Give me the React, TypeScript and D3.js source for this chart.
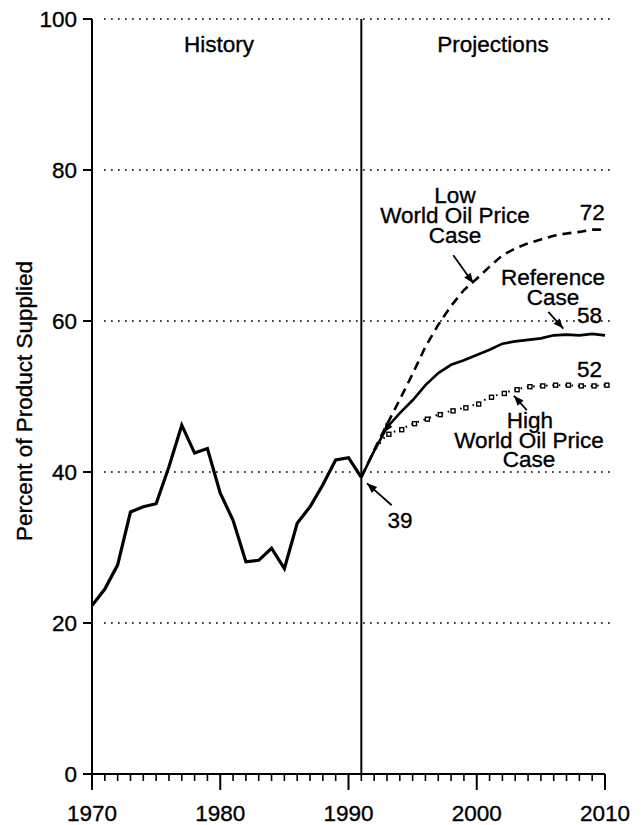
import React from "react";
import * as d3 from "d3";

const historyYears = d3.range(1970, 1992);
const historyValues = [22.3, 24.5, 27.7, 34.7, 35.4, 35.8, 40.7, 46.2, 42.5, 43.1, 37.2, 33.6, 28.1, 28.3, 29.9, 27.2, 33.2, 35.4, 38.3, 41.6, 41.9, 39.3];

const projYears = d3.range(1991, 2011);
const referenceCase = [39.3, 42.8, 45.9, 47.8, 49.5, 51.5, 53.1, 54.2, 54.8, 55.5, 56.2, 57.0, 57.3, 57.5, 57.7, 58.1, 58.2, 58.1, 58.3, 58.1];
const lowOilCase = [39.3, 42.9, 46.3, 49.6, 53.0, 56.6, 59.5, 62.0, 64.1, 65.6, 67.2, 68.7, 69.6, 70.3, 70.8, 71.3, 71.6, 71.8, 72.1, 72.1];
const highOilCase = [39.3, 42.8, 45.0, 45.6, 46.4, 47.0, 47.6, 48.1, 48.5, 49.0, 49.9, 50.4, 50.9, 51.3, 51.4, 51.5, 51.5, 51.4, 51.4, 51.5];

const yTicks = [0, 20, 40, 60, 80, 100];
const xTickLabels = [1970, 1980, 1990, 2000, 2010];
const allYears = d3.range(1970, 2011);
const dividerYear = 1991;

const endLabels = [
  { text: "72", year: 2009.0, value: 73.4 },
  { text: "58", year: 2008.8, value: 59.7 },
  { text: "52", year: 2008.8, value: 52.6 },
];

const arrows = [
  { from: [1998.17, 68.7], to: [1999.73, 65.0] },
  { from: [2005.58, 61.2], to: [2006.75, 59.0] },
  { from: [2003.9, 48.2], to: [2002.9, 50.1] },
  { from: [1993.37, 35.6], to: [1991.44, 38.5] },
  { from: [1993.3, 46.6], to: [1992.72, 45.2] },
];

const FONT = "'Liberation Sans', Arial, Helvetica, sans-serif";

export default function App() {
  const W = 643;
  const H = 825;
  const x = d3.scaleLinear().domain([1970, 2010]).range([92, 605]);
  const y = d3.scaleLinear().domain([0, 100]).range([774, 19]);

  const line = d3
    .line<[number, number]>()
    .x((d) => x(d[0]))
    .y((d) => y(d[1]));

  const hist = line(historyYears.map((yr, i) => [yr, historyValues[i]]));
  const ref = line(projYears.map((yr, i) => [yr, referenceCase[i]]));
  const low = line(projYears.map((yr, i) => [yr, lowOilCase[i]]));
  const highPts: [number, number][] = projYears.map((yr, i) => [yr, highOilCase[i]]);
  const high = line(highPts);

  const arrowHead = (fx: number, fy: number, tx: number, ty: number, len = 10, half = 4) => {
    const ang = Math.atan2(ty - fy, tx - fx);
    const bx = tx - len * Math.cos(ang);
    const by = ty - len * Math.sin(ang);
    const px = -Math.sin(ang) * half;
    const py = Math.cos(ang) * half;
    return `M${tx},${ty}L${bx + px},${by + py}L${bx - px},${by - py}Z`;
  };

  const textStyle: React.CSSProperties = {
    fontFamily: FONT,
    fontSize: 22.5,
    fill: "#000",
    stroke: "#000",
    strokeWidth: 0.35,
  };

  return (
    <div style={{ position: "fixed", left: 0, top: 0, width: W, height: H, background: "#fff" }}>
      <svg width={W} height={H} style={{ display: "block" }}>
        <rect x={0} y={0} width={W} height={H} fill="#fff" />
        {/* gridlines */}
        {yTicks
          .filter((t) => t > 0)
          .map((t) => (
            <line
              key={"g" + t}
              x1={x(1970) + 12}
              x2={610}
              y1={y(t)}
              y2={y(t)}
              stroke="#000"
              strokeWidth={1.7}
              strokeDasharray="1.7 5.3"
            />
          ))}
        {/* left axis */}
        <line x1={x(1970)} x2={x(1970)} y1={y(100)} y2={y(0) + 16} stroke="#000" strokeWidth={2} />
        {yTicks.map((t) => (
          <g key={"yt" + t}>
            <line x1={x(1970) - 9} x2={x(1970)} y1={y(t)} y2={y(t)} stroke="#000" strokeWidth={2} />
            <text x={77} y={y(t)} dy="0.36em" textAnchor="end" style={textStyle}>
              {t}
            </text>
          </g>
        ))}
        {/* bottom axis */}
        <line x1={x(1970)} x2={x(2010)} y1={y(0)} y2={y(0)} stroke="#000" strokeWidth={2} />
        {allYears.map((yr) => {
          const major = yr % 10 === 0;
          return (
            <line
              key={"xt" + yr}
              x1={x(yr)}
              x2={x(yr)}
              y1={y(0)}
              y2={y(0) + (major ? 16 : 7)}
              stroke="#000"
              strokeWidth={major ? 2 : 1.6}
            />
          );
        })}
        {xTickLabels.map((yr) => (
          <text key={"xl" + yr} x={x(yr)} y={821} textAnchor="middle" style={textStyle}>
            {yr}
          </text>
        ))}
        {/* divider */}
        <line x1={x(dividerYear)} x2={x(dividerYear)} y1={y(100)} y2={y(0)} stroke="#000" strokeWidth={2} />

        {/* lines */}
        <path d={hist || ""} fill="none" stroke="#000" strokeWidth={3.2} strokeLinejoin="miter" />
        <path d={ref || ""} fill="none" stroke="#000" strokeWidth={2.6} />
        <path d={low || ""} fill="none" stroke="#000" strokeWidth={2.6} strokeDasharray="9 6" />
        <path d={high || ""} fill="none" stroke="#000" strokeWidth={2} strokeDasharray="1.6 4.8" />
        {highPts.slice(2).map((p, i) => (
          <rect
            key={"hs" + i}
            x={x(p[0] + 0.15) - 2}
            y={y(p[1]) - 2}
            width={4}
            height={4}
            fill="#fff"
            stroke="#000"
            strokeWidth={1.4}
          />
        ))}

        {/* arrows */}
        {arrows.map((a, i) => {
          const fx = x(a.from[0]);
          const fy = y(a.from[1]);
          const tx = x(a.to[0]);
          const ty = y(a.to[1]);
          return (
            <g key={"ar" + i}>
              {i < 4 && <line x1={fx} y1={fy} x2={tx} y2={ty} stroke="#000" strokeWidth={1.8} />}
              <path d={arrowHead(fx, fy, tx, ty)} fill="#000" />
            </g>
          );
        })}

        {/* section titles */}
        <text x={219} y={52} textAnchor="middle" style={textStyle}>
          History
        </text>
        <text x={493} y={52} textAnchor="middle" style={textStyle}>
          Projections
        </text>

        {/* annotations */}
        <text x={455} y={203} textAnchor="middle" style={textStyle}>
          Low
        </text>
        <text x={455} y={223} textAnchor="middle" style={textStyle}>
          World Oil Price
        </text>
        <text x={455} y={243} textAnchor="middle" style={textStyle}>
          Case
        </text>

        <text x={553} y={285} textAnchor="middle" style={textStyle}>
          Reference
        </text>
        <text x={553} y={305} textAnchor="middle" style={textStyle}>
          Case
        </text>

        <text x={530} y={428} textAnchor="middle" style={textStyle}>
          High
        </text>
        <text x={529} y={448} textAnchor="middle" style={textStyle}>
          World Oil Price
        </text>
        <text x={529} y={467} textAnchor="middle" style={textStyle}>
          Case
        </text>

        {endLabels.map((l) => (
          <text key={l.text} x={x(l.year)} y={y(l.value)} textAnchor="middle" style={textStyle}>
            {l.text}
          </text>
        ))}
        <text x={400} y={528} textAnchor="middle" style={textStyle}>
          39
        </text>

        {/* y label */}
        <text transform="translate(32,401) rotate(-90)" textAnchor="middle" style={textStyle}>
          Percent of Product Supplied
        </text>
      </svg>
    </div>
  );
}
